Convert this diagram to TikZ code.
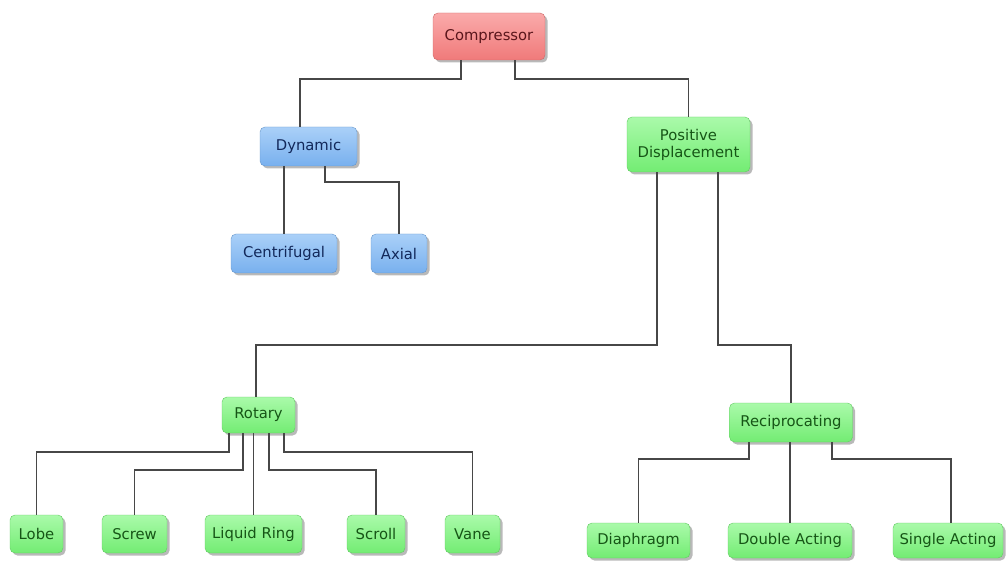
\documentclass[tikz,border=0pt]{standalone}
\usepackage{fontspec}
\setmainfont{DejaVu Sans}
\usetikzlibrary{shadows}

\definecolor{compfill}{RGB}{240,122,122}
\definecolor{comptop}{RGB}{250,170,170}
\definecolor{comptext}{RGB}{90,22,28}
\definecolor{dynfill}{RGB}{120,176,238}
\definecolor{dyntop}{RGB}{170,208,248}
\definecolor{dyntext}{RGB}{18,40,90}
\definecolor{posfill}{RGB}{115,236,115}
\definecolor{postop}{RGB}{170,250,170}
\definecolor{postext}{RGB}{22,85,22}

\begin{document}
\begin{tikzpicture}[x = 1pt, y = -1pt,
  box/.style = {rounded corners = 5pt, inner sep = 0pt, align = center,
    font = \fontsize{14.8}{17}\selectfont,
    drop shadow = {shadow xshift = 2.5pt, shadow yshift = -2.5pt,
      fill = black!50, opacity = 0.55}},
  redbox/.style = {box, top color = comptop, bottom color = compfill,
    draw = compfill!85!black, text = comptext},
  bluebox/.style = {box, top color = dyntop, bottom color = dynfill,
    draw = dynfill!85!black, text = dyntext},
  greenbox/.style = {box, top color = postop, bottom color = posfill,
    draw = posfill!85!black, text = postext},
  link/.style = {draw = black!72, line width = 1.9pt}
]
\useasboundingbox (0,0) rectangle (1006,561);

% top levels
\node[redbox, minimum width = 112pt, minimum height = 47pt] (comp) at (489,36.5) {Compressor};
\node[bluebox, minimum width = 97pt, minimum height = 39pt] (dyn) at (308.5,146.5) {Dynamic};
\node[greenbox, minimum width = 123pt, minimum height = 55pt] (pd) at (688.5,144.5) {Positive\\Displacement};
\node[bluebox, minimum width = 106pt, minimum height = 39pt] (cent) at (284,253.5) {Centrifugal};
\node[bluebox, minimum width = 56pt, minimum height = 39pt] (axial) at (399,253.5) {Axial};
\node[greenbox, minimum width = 73pt, minimum height = 36pt] (rot) at (258.5,415) {Rotary};
\node[greenbox, minimum width = 123pt, minimum height = 39pt] (recip) at (791,422.5) {Reciprocating};

% leaves
\node[greenbox, minimum width = 53pt, minimum height = 38pt] (lobe) at (36.5,534) {Lobe};
\node[greenbox, minimum width = 65pt, minimum height = 38pt] (screw) at (134.5,534) {Screw};
\node[greenbox, minimum width = 97pt, minimum height = 38pt] (liquid) at (253.5,534) {Liquid Ring};
\node[greenbox, minimum width = 58pt, minimum height = 38pt] (scroll) at (376,534) {Scroll};
\node[greenbox, minimum width = 55pt, minimum height = 38pt] (vane) at (472.5,534) {Vane};
\node[greenbox, minimum width = 103pt, minimum height = 35pt] (diaph) at (638.5,540.5) {Diaphragm};
\node[greenbox, minimum width = 124pt, minimum height = 35pt] (dbl) at (790,540.5) {Double Acting};
\node[greenbox, minimum width = 110pt, minimum height = 35pt] (single) at (948,540.5) {Single Acting};

% links
\draw[link] ([xshift = -28pt]comp.south) -- ++(0,19) -| ([xshift = -8.5pt]dyn.north);
\draw[link] ([xshift = 26pt]comp.south) -- ++(0,19) -| (pd.north);
\draw[link] (cent.north |- dyn.south) -- (cent.north);
\draw[link] ([xshift = 16.5pt]dyn.south) -- ++(0,16) -| (axial.north);
\draw[link] ([xshift = -31.5pt]pd.south) -- ++(0,173) -| ([xshift = -2.5pt]rot.north);
\draw[link] ([xshift = 29.5pt]pd.south) -- ++(0,173) -| (recip.north);
\draw[link] ([xshift = -29.5pt]rot.south) -- ++(0,19) -| (lobe.north);
\draw[link] ([xshift = -15.5pt]rot.south) -- ++(0,37) -| (screw.north);
\draw[link] (liquid.north |- rot.south) -- (liquid.north);
\draw[link] ([xshift = 10.5pt]rot.south) -- ++(0,37) -| (scroll.north);
\draw[link] ([xshift = 25.5pt]rot.south) -- ++(0,19) -| (vane.north);
\draw[link] ([xshift = -42pt]recip.south) -- ++(0,17) -| (diaph.north);
\draw[link] (dbl.north |- recip.south) -- (dbl.north);
\draw[link] ([xshift = 41pt]recip.south) -- ++(0,17) -| ([xshift = 3pt]single.north);
\end{tikzpicture}
\end{document}
